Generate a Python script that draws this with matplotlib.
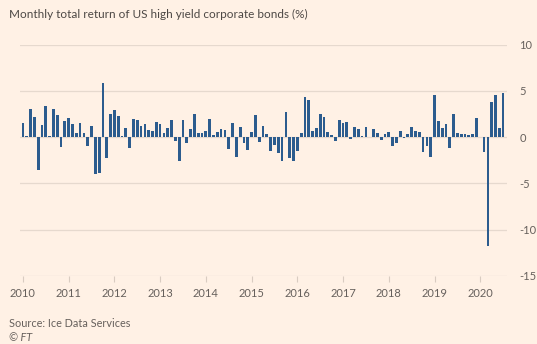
'''
Monthly total return of US high yield corporate bonds
'''

import numpy as np
import matplotlib.pyplot as plt

plt.rcParams['font.family'] = ['Lato', 'DejaVu Sans']

# Monthly returns (%), January 2010 to July 2020
r2010 = [1.55, 0.15, 3.1, 2.2, -3.5, 1.3, 3.4, 0.15, 3.0, 2.4, -1.1, 1.8]
r2011 = [2.1, 1.4, 0.4, 1.55, 0.5, -1.0, 1.2, -4.0, -3.9, 5.9, -2.2, 2.5]
r2012 = [2.9, 2.3, 0.1, 1.0, -1.2, 2.0, 1.9, 1.2, 1.4, 0.8, 0.7, 1.6]
r2013 = [1.4, 0.5, 1.0, 1.85, -0.4, -2.6, 1.9, -0.6, 0.9, 2.5, 0.5, 0.5]
r2014 = [0.7, 2.0, 0.2, 0.6, 0.9, 0.75, -1.3, 1.5, -2.1, 1.1, -0.6, -1.4]
r2015 = [0.6, 2.4, -0.5, 1.2, 0.3, -1.5, -0.8, -1.7, -2.6, 2.7, -2.2, -2.6]
r2016 = [-1.5, 0.5, 4.4, 4.0, 0.7, 1.0, 2.5, 2.2, 0.6, 0.2, -0.4, 1.9]
r2017 = [1.5, 1.6, -0.2, 1.1, 0.9, 0.1, 1.1, 0.05, 0.9, 0.4, -0.3, 0.3]
r2018 = [0.6, -0.9, -0.6, 0.7, -0.05, 0.3, 1.1, 0.7, 0.6, -1.6, -0.9, -2.1]
r2019 = [4.6, 1.7, 1.0, 1.4, -1.2, 2.5, 0.5, 0.35, 0.3, 0.25, 0.3, 2.1]
r2020 = [0.05, -1.6, -11.8, 3.8, 4.6, 0.95, 4.75]

years = list(range(2010, 2021))
yticks = [10, 5, 0, -5, -10, -15]

returns = r2010 + r2011 + r2012 + r2013 + r2014 + r2015 + r2016 + r2017 \
    + r2018 + r2019 + r2020

bg = '#fff1e5'
bar_color = '#2c5c8e'
text_color = '#66605c'
grid_color = '#e6d9ce'

fig = plt.figure(figsize=(5.37, 3.44), dpi=100, facecolor=bg)
ax = fig.add_axes([0.037, 0.198, 0.907, 0.672])
ax.set_facecolor(bg)

months = np.arange(len(returns))
ax.bar(months, returns, width=0.72, color=bar_color, zorder=3)

# Axis limits and gridlines
ax.set_xlim(-0.8, len(returns))
ax.set_ylim(-15, 10)
ax.set_yticks(yticks)
ax.set_yticklabels([str(v) for v in yticks])
ax.yaxis.tick_right()
ax.grid(axis='y', color=grid_color, linewidth=0.9, zorder=0)
ax.tick_params(axis='y', length=0, pad=9, labelsize=8, labelcolor=text_color)

ax.set_xticks([12 * (y - years[0]) for y in years])
ax.set_xticklabels([str(y) for y in years])
ax.tick_params(axis='x', length=4, width=0.8, color='#d9ccc1', pad=5,
               labelsize=8, labelcolor=text_color)

for side in ['top', 'right', 'left', 'bottom']:
    ax.spines[side].set_visible(False)

# Title and source
fig.text(0.017, 0.958, 'Monthly total return of US high yield corporate bonds (%)',
         fontsize=8.5, color='#4d4845', ha='left', va='center')
fig.text(0.017, 0.06, 'Source: Ice Data Services', fontsize=7.8,
         color=text_color, ha='left', va='center')
fig.text(0.017, 0.018, '© FT', fontsize=7.8, style='italic',
         color=text_color, ha='left', va='center')

fig.savefig('out.png', dpi=100, facecolor=bg)
